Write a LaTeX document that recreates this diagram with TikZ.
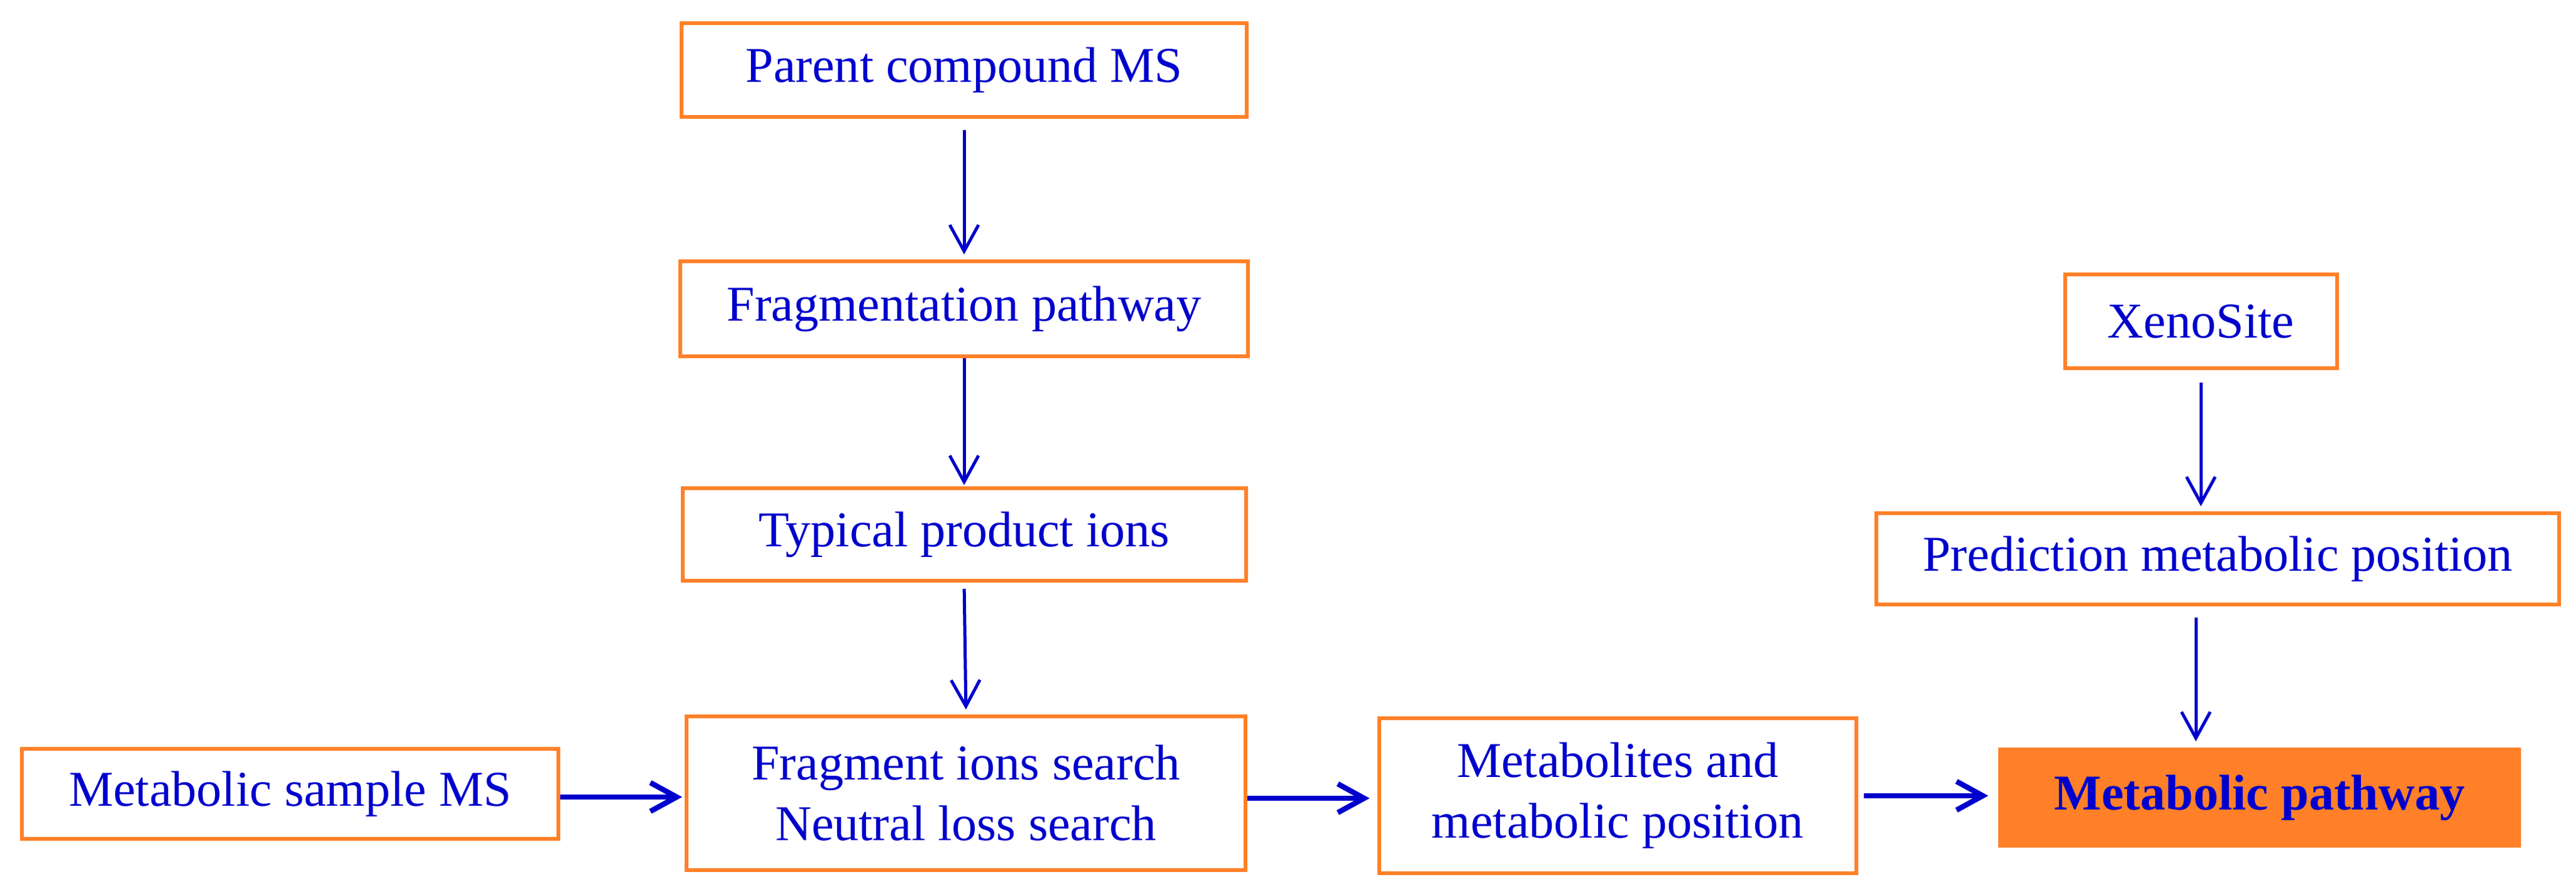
\documentclass[tikz,border=0pt]{standalone}
\usepackage{fontspec}
\setmainfont{Liberation Serif}
\usetikzlibrary{arrows.meta}
\definecolor{boxorange}{RGB}{255,128,40}
\definecolor{txtblue}{RGB}{0,0,205}

\begin{document}
\begin{tikzpicture}
\tikzstyle{box}=[rectangle, draw=boxorange, line width=0.06cm, fill=white, text=txtblue,
    font=\fontsize{22.8}{27.6}\selectfont, align=center, inner sep=0pt]
\tikzstyle{arr}=[-{Straight Barb[length=0.42cm,width=0.46cm]}, draw=txtblue, line width=0.05cm]
\tikzstyle{harr}=[arr, line width=0.085cm]
\useasboundingbox (0,0) rectangle (41.2,-14.26);

% left column
\node[box, minimum width = 9.04cm,
    minimum height = 1.5cm] (parent) at (15.42,-1.12) {Parent compound MS};
\node[box, minimum width = 9.08cm,
    minimum height = 1.52cm] (frag) at (15.42,-4.94) {Fragmentation pathway};
\node[box, minimum width = 9.01cm,
    minimum height = 1.48cm] (typical) at (15.42,-8.55) {Typical product ions};
\node[box, minimum width = 8.94cm,
    minimum height = 2.46cm] (search) at (15.45,-12.69) {Fragment ions search\\Neutral loss search};

% bottom row
\node[box, minimum width = 8.58cm,
    minimum height = 1.44cm] (sample) at (4.64,-12.70) {Metabolic sample MS};
\node[box, minimum width = 7.63cm,
    minimum height = 2.48cm] (metab) at (25.87,-12.73) {Metabolites and\\metabolic position};
\node[box, fill=boxorange, font=\fontsize{22.8}{27.6}\selectfont\bfseries, minimum width = 8.3cm,
    minimum height = 1.54cm] (pathway) at (36.14,-12.76) {Metabolic pathway};

% right column
\node[box, minimum width = 4.35cm,
    minimum height = 1.5cm] (xeno) at (35.20,-5.14) {XenoSite};
\node[box, minimum width = 10.92cm,
    minimum height = 1.46cm] (predict) at (35.47,-8.94) {Prediction metabolic position};

\draw[arr, shorten <=0.18cm, shorten >=0.08cm] (parent) -- (frag);
\draw[arr, shorten >=0.02cm] (frag) -- (typical);
\draw[arr, shorten <=0.1cm, shorten >=0.08cm] (typical.south) -- (search.north);
\draw[harr, shorten >=0.04cm] (sample.east |- 0,-12.75) -- (search.west |- 0,-12.75);
\draw[harr, shorten >=0.12cm] (search.east |- 0,-12.77) -- (metab.west |- 0,-12.77);
\draw[harr, shorten <=0.09cm, shorten >=0.16cm] (metab.east |- 0,-12.73) -- (pathway.west |- 0,-12.73);
\draw[arr, shorten <=0.2cm, shorten >=0.08cm] (xeno.south) -- (xeno |- predict.north);
\draw[arr, shorten <=0.18cm, shorten >=0.1cm] ([xshift=-0.08cm]xeno |- predict.south) -- ([xshift=-0.08cm]xeno |- pathway.north);
\end{tikzpicture}
\end{document}
